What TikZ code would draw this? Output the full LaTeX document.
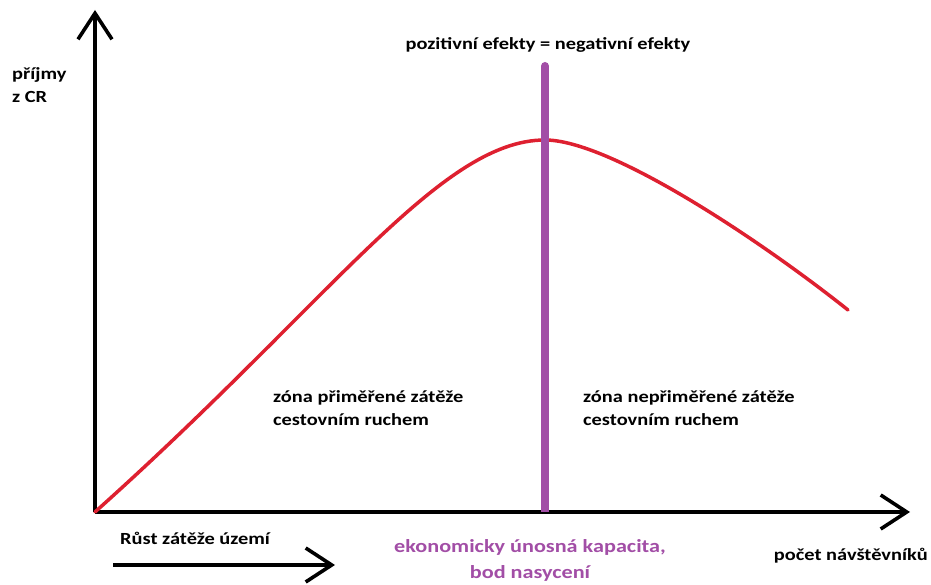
\documentclass[tikz,border=0pt]{standalone}
\usepackage{fontspec}
\setmainfont[FakeStretch=1.2]{Carlito}
\usepackage{xcolor}
\usepackage{tikz}
\usetikzlibrary{arrows.meta,positioning}

\definecolor{curvered}{RGB}{222,32,48}
\definecolor{capacity}{RGB}{162,78,166}

\begin{document}
\begin{tikzpicture}[x=1pt, y=1pt, font=\fontsize{17}{23}\selectfont\bfseries]
  \tikzstyle{axis} = [draw, line width=3.6pt, -{Straight Barb[length=26pt, width=34pt, line width=3.6pt]}]
  \tikzstyle{curve} = [draw, curvered, line width=3.5pt, line cap=round]
  \tikzstyle{limit} = [draw, capacity, line width=8pt]
  \tikzstyle{label} = [inner sep=0pt, align=left]

  \useasboundingbox (0,0) rectangle (931,585);

  \coordinate (origin) at (95,73);
  \coordinate (ytip) at (95,575);
  \coordinate (xtip) at (910,73);
  \coordinate (peak) at (545,445);
  \coordinate (tail) at (848,275);
  \coordinate (limtop) at (545,519);
  \coordinate (growstart) at (113,20);
  \coordinate (growtip) at (335,20);

  % axes
  \path [axis] (origin) -- (ytip);
  \path [axis] (origin) -- (xtip);

  % revenue curve
  \path [curve] (origin) .. controls (330,283) and (440,445) .. (peak)
                         .. controls (610,445) and (760,345) .. (tail);

  % saturation line
  \path [limit] (limtop) -- (origin -| limtop);
  \fill [capacity] (limtop) circle (4pt);

  \node [label, anchor=west] (revenue) at (12,500) {příjmy\\z CR};
  \node [label, anchor=center] (balance) at (548,540) {pozitivní efekty = negativní efekty};
  \node [label, anchor=north west] (zoneok) at (273,195) {zóna přiměřené zátěže\\cestovním ruchem};
  \node [label, anchor=north west] (zonebad) at (583,195) {zóna nepřiměřené zátěže\\cestovním ruchem};
  \node [label, anchor=west] (growth) at (120,47) {Růst zátěže území};
  \node [label, align=center, text=capacity, anchor=north, font=\fontsize{18.5}{26}\selectfont\bfseries] (capacitytext) at (530,46) {ekonomicky únosná kapacita,\\bod nasycení};
  \node [label, anchor=east] (visitors) at (928,29) {počet návštěvníků};

  % growth arrow
  \path [axis] (growstart) -- (growtip);
\end{tikzpicture}
\end{document}
